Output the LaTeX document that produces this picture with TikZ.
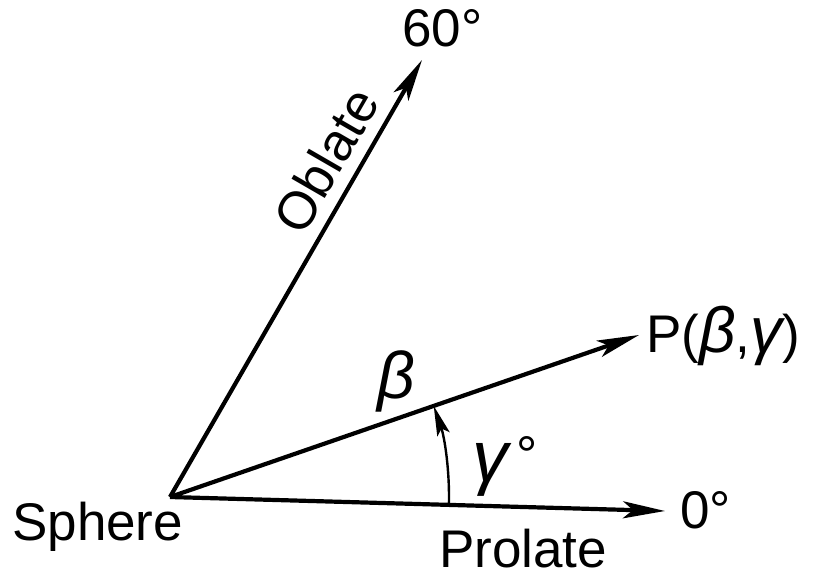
\documentclass[tikz,border=0pt]{standalone}
\usepackage{fontspec}
\setmainfont{Liberation Sans}
\usetikzlibrary{arrows.meta}
\newcommand{\grk}[1]{{\fontsize{64}{70}\selectfont\itshape #1}}
\begin{document}
\begin{tikzpicture}[x=1pt,y=-1pt,
  axis/.style={line width=4.2pt, -{Stealth[length=42pt,width=17pt,inset=10pt]}},
  arcarrow/.style={line width=2.4pt, -{Stealth[length=30pt,width=13pt,inset=6pt]}},
  lbl/.style={font=\fontsize{53}{60}\selectfont, inner sep=0pt},
  greek/.style={font=\fontsize{66}{72}\selectfont\itshape, inner sep=0pt},
]
\useasboundingbox (0,0) rectangle (822,578);
\coordinate (O) at (170,497);
\coordinate (Z) at (665,511);
\coordinate (S) at (422,60);
\coordinate (P) at (639,335);
\draw[axis] (O) -- (Z);
\draw[axis] (O) -- (S);
\draw[axis] (O) -- (P);
\path (O) ++(1.62:279) coordinate (A0);
\draw[arcarrow] (A0) arc[start angle=1.62, end angle=-19.06, radius=279];
\node[lbl, anchor=base west] (sixty) at (402,47) {60°};
\node[lbl, anchor=base west] (zero) at (680,528) {0°};
\node[lbl, anchor=base west] (pbg) at (646,352) {P(\grk{β},\grk{γ})};
\node[lbl, anchor=base west] (sphere) at (12,540) {Sphere};
\node[lbl, anchor=base west] (prolate) at (439,567) {Prolate};
\node[lbl, rotate=60] (oblate) at (326,160) {Oblate};
\node[greek] (beta) at (396,381) {β};
\node[greek, font=\fontsize{72}{78}\selectfont\itshape, anchor=north west] (gam) at (472,443) {γ};
\node[lbl, anchor=center] (deg) at (527,455) {°};
\end{tikzpicture}
\end{document}
